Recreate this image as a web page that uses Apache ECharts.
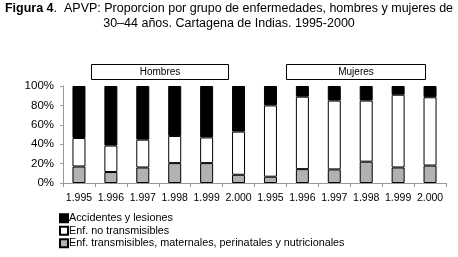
<!DOCTYPE html>
<html><head><meta charset="utf-8">
<script src="https://cdn.jsdelivr.net/npm/echarts@6/dist/echarts.min.js"></script>
<style>html,body{margin:0;padding:0;background:#fff}#c{width:458px;height:257px}</style>
</head><body><div id="c"></div>
<script>
const categories = ['1.995','1.996','1.997','1.998','1.999','2.000','1.995','1.996','1.997','1.998','1.999','2.000'];
const transmisibles = [17, 11.3, 16, 20.5, 20.5, 8.5, 6.5, 14.3, 14, 22, 16, 18];
const noTransmisibles = [29.4, 27.3, 28.7, 28, 26.5, 44.5, 73.5, 74.7, 71, 63, 75, 70.4];
const accidentes = [53.6, 61.4, 55.3, 51.5, 53, 47, 20, 11, 15, 15, 9, 11.6];
const yTicks = [0, 20, 40, 60, 80, 100];
const groupLabels = ['Hombres', 'Mujeres'];

const chart = echarts.init(document.getElementById('c'), null, {renderer: 'canvas'});
const font = 'Arial, "Liberation Sans", sans-serif';
const barStyle = (c) => ({color: c, borderColor: '#000', borderWidth: 1});
chart.setOption({
  animation: false,
  textStyle: {fontFamily: font},
  title: {
    text: '{b|Figura 4}.  APVP: Proporcion por grupo de enfermedades, hombres y mujeres de\n30–44 años. Cartagena de Indias. 1995-2000',
    left: 229, top: 1, textAlign: 'center', padding: 0,
    textStyle: {fontFamily: font, fontSize: 12.5, fontWeight: 'normal', color: '#000', lineHeight: 15,
      rich: {b: {fontFamily: font, fontSize: 12.5, fontWeight: 'bold', color: '#000', lineHeight: 15}}}
  },
  grid: {left: 63, right: 12, top: 86, bottom: 74, containLabel: false},
  xAxis: {
    type: 'category', data: categories,
    axisLine: {lineStyle: {color: '#999'}},
    axisTick: {show: true, lineStyle: {color: '#999'}, length: 4},
    axisLabel: {color: '#000', fontSize: 10.5, fontFamily: font, margin: 10, interval: 0}
  },
  yAxis: {
    type: 'value', min: yTicks[0], max: yTicks[yTicks.length - 1], interval: 20,
    axisLine: {show: true, lineStyle: {color: '#999'}},
    axisTick: {show: true, inside: false, length: 3, lineStyle: {color: '#999'}},
    splitLine: {show: false},
    axisLabel: {color: '#000', fontSize: 11.5, fontFamily: font, formatter: '{value}%', margin: 9}
  },
  legend: {
    orient: 'vertical', left: 59, top: 212, itemWidth: 8, itemHeight: 8, itemGap: 0, padding: 0,
    data: ['Accidentes y lesiones', 'Enf. no transmisibles', 'Enf. transmisibles, maternales, perinatales y nutricionales'],
    textStyle: {fontFamily: font, fontSize: 10.8, color: '#000', lineHeight: 12.5, padding: [0, 0, 0, -4]},
    icon: 'rect'
  },
  series: [
    {name: 'Enf. transmisibles, maternales, perinatales y nutricionales', type: 'bar', stack: 's', data: transmisibles, barWidth: 13, itemStyle: barStyle('#b2b2b2')},
    {name: 'Enf. no transmisibles', type: 'bar', stack: 's', data: noTransmisibles, barWidth: 13, itemStyle: barStyle('#ffffff')},
    {name: 'Accidentes y lesiones', type: 'bar', stack: 's', data: accidentes, barWidth: 13, itemStyle: barStyle('#000000')}
  ],
  graphic: [
    {type: 'rect', shape: {x: 91.5, y: 64.5, width: 137, height: 15}, style: {fill: '#fff', stroke: '#000', lineWidth: 1}},
    {type: 'text', x: 160, y: 72, style: {text: groupLabels[0], font: '10px ' + font, fill: '#000', textAlign: 'center', textVerticalAlign: 'middle'}},
    {type: 'rect', shape: {x: 286.5, y: 64.5, width: 139, height: 15}, style: {fill: '#fff', stroke: '#000', lineWidth: 1}},
    {type: 'text', x: 356, y: 72, style: {text: groupLabels[1], font: '10px ' + font, fill: '#000', textAlign: 'center', textVerticalAlign: 'middle'}}
  ]
});
</script></body></html>
